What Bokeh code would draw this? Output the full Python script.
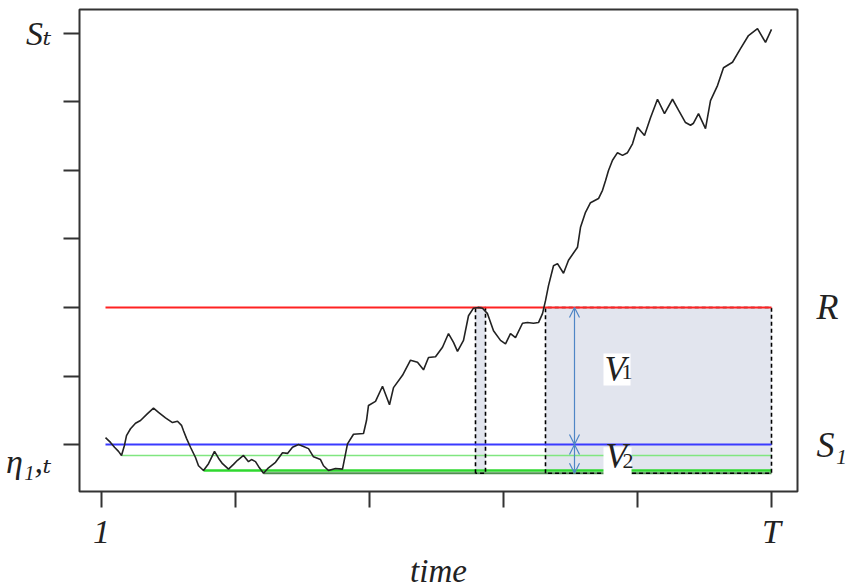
from bokeh.plotting import figure
from bokeh.models import Range1d, FixedTicker, LinearAxis, Arrow, OpenHead
from bokeh.core.properties import value
from bokeh.embed import file_html
from bokeh.resources import INLINE

# ---- data (time in steps, price in tick units) ----
time = [5, 10, 14, 18, 21, 24, 26, 30, 35, 40, 47, 53, 58, 65, 72, 77, 81, 83, 86, 90,
        95, 98, 103, 108, 114, 118, 122, 128, 133, 137, 143, 148, 151, 155, 158, 163, 168, 175, 182, 187,
        192, 198, 203, 208, 213, 220, 223, 228, 235, 242, 247, 253, 263, 266, 268, 275, 282, 289, 293, 302,
        310, 317, 323, 328, 335, 342, 348, 353, 357, 363, 368, 373, 378, 382, 387, 393, 400, 405, 410, 415,
        422, 427, 433, 438, 442, 445, 448, 453, 457, 463, 468, 477, 480, 485, 490, 498, 502, 505, 508, 512,
        517, 522, 527, 532, 537, 544, 550, 557, 564, 572, 578, 585, 590, 593, 598, 605, 610, 617, 623, 632,
        640, 648, 657, 665, 671]
price = [0.10, 0.03, -0.04, -0.10, -0.16, -0.01, 0.13, 0.23, 0.31, 0.35, 0.45, 0.53, 0.47, 0.39, 0.32, 0.34, 0.28, 0.20, 0.09, -0.04,
         -0.19, -0.31, -0.38, -0.28, -0.10, -0.20, -0.28, -0.36, -0.29, -0.23, -0.16, -0.25, -0.22, -0.25, -0.32, -0.42, -0.34, -0.26, -0.12, -0.13,
         -0.04, 0.00, -0.03, -0.06, -0.18, -0.22, -0.31, -0.38, -0.35, -0.36, 0.01, 0.15, 0.16, 0.35, 0.57, 0.63, 0.85, 0.58, 0.83, 1.01,
         1.23, 1.20, 1.09, 1.27, 1.28, 1.42, 1.62, 1.49, 1.36, 1.52, 1.88, 1.99, 2.00, 1.99, 1.91, 1.66, 1.52, 1.47, 1.62, 1.56,
         1.77, 1.78, 1.77, 1.78, 1.91, 2.10, 2.32, 2.61, 2.64, 2.50, 2.69, 2.88, 3.17, 3.39, 3.53, 3.59, 3.71, 3.85, 4.00, 4.15,
         4.26, 4.22, 4.26, 4.39, 4.63, 4.51, 4.77, 5.04, 4.83, 5.04, 4.88, 4.70, 4.66, 4.69, 4.83, 4.61, 5.02, 5.24, 5.50, 5.58,
         5.78, 5.97, 6.07, 5.87, 6.06]

T = 671
x_ticks = [1, 135, 269, 403, 537, 671]
x_tick_labels = {1: "1", 671: "T"}
y_ticks = [0, 1, 2, 3, 4, 5, 6]
y_tick_labels = {6: "Sₜ", -0.25: "η₁,ₜ"}
R = 2.0
S1 = 0.0
right_labels = {2.0: "R", 0.0: "S₁"}
eta_start = [21, 103, 163]          # times of new running minima
eta_level = [-0.16, -0.38, -0.42]   # running-minimum levels
eta_colors = ["#80e680", "#2fd82f", "#4f8f4f"]
eta_widths = [1.5, 2.5, 2.0]
touch_start = [375, 445]            # windows where the path is at/above R
touch_end = [385, 671]
arrow_t = 474

FONT = "'Liberation Serif', 'DejaVu Serif', serif"
TXT = "#222222"

p = figure(frame_width=718, frame_height=482, min_border_left=79, min_border_right=49,
           min_border_top=9, min_border_bottom=96,
           x_range=Range1d(-21, 697), y_range=Range1d(-0.686, 6.35),
           output_backend="svg", toolbar_location=None, tools="")
p.grid.visible = False
p.outline_line_color = "#333333"
p.outline_line_width = 2
p.background_fill_color = "white"
p.border_fill_color = "white"


def style_labels(ax, size="34px", fstyle="italic"):
    ax.major_label_text_font = FONT
    ax.major_label_text_font_style = fstyle
    ax.major_label_text_font_size = size
    ax.major_label_text_color = TXT


# tick axes
xa = p.xaxis[0]
xa.ticker = FixedTicker(ticks=x_ticks)
xa.major_label_overrides = {t: x_tick_labels.get(t, "") for t in x_ticks}
style_labels(xa)
xa.major_label_standoff = 5
xa.axis_label = "time"
xa.axis_label_text_font = FONT
xa.axis_label_text_font_style = "italic"
xa.axis_label_text_font_size = "33px"
xa.axis_label_text_color = TXT
xa.axis_label_standoff = 0

ya = p.yaxis[0]
ya.ticker = FixedTicker(ticks=y_ticks)
ya.major_label_overrides = {t: "" for t in y_ticks}
ya.major_label_standoff = 0

for ax in (xa, ya):
    ax.axis_line_color = None
    ax.major_tick_line_color = "#333333"
    ax.major_tick_line_width = 2
    ax.major_tick_out = 16
    ax.major_tick_in = 0
    ax.minor_tick_line_color = None

# label-only axes (left: S_t and eta; right: R and S_1)
yl = LinearAxis(ticker=FixedTicker(ticks=list(y_tick_labels.keys())),
                major_label_overrides=y_tick_labels, major_label_standoff=12)
yr = LinearAxis(ticker=FixedTicker(ticks=list(right_labels.keys())),
                major_label_overrides=right_labels, major_label_standoff=19)
style_labels(yl)
style_labels(yr, size="36px")
for ax in (yl, yr):
    ax.axis_line_color = None
    ax.major_tick_line_color = None
    ax.major_tick_out = 0
    ax.major_tick_in = 0
    ax.minor_tick_line_color = None
p.add_layout(yl, "left")
p.add_layout(yr, "right")

# shaded windows
eta_min = min(eta_level)
p.quad(left=touch_start, right=touch_end, bottom=[eta_min] * 2, top=[R] * 2,
       fill_color="#e2e5ee", line_color=None)

# running minimum lines
for s, lv, c, w in zip(eta_start, eta_level, eta_colors, eta_widths):
    p.line([s, T], [lv, lv], line_color=c, line_width=w)

# dashed window outlines
for a, b in zip(touch_start, touch_end):
    p.line([a, a, b, b, a], [eta_min, R, R, eta_min, eta_min], line_color="black",
           line_width=1.6, line_dash="4 3")

# S1 and R levels
p.line([time[0], T], [S1, S1], line_color="#3a3aff", line_width=2)
p.line([time[0], T], [R, R], line_color="#ff2222", line_width=1.8)

# price path
p.line(time, price, line_color="#222222", line_width=1.6)

# arrows
for y0, y1 in ((S1, R), (eta_min, S1)):
    p.add_layout(Arrow(x_start=arrow_t, y_start=y0, x_end=arrow_t, y_end=y1,
                       start=OpenHead(size=10, line_color="#4f86c6", line_width=1.2),
                       end=OpenHead(size=10, line_color="#4f86c6", line_width=1.2),
                       line_color="#4f86c6", line_width=1.2))

# white boxes behind V labels
p.quad(left=[503, 503], right=[530, 531], bottom=[0.86, -0.50], top=[1.33, -0.04],
       fill_color="white", line_color=None)

# V labels
p.text(x=[504, 505], y=[1.10, -0.17], text=["V", "V"], text_font=value(FONT),
       text_font_style="italic", text_font_size="35px", text_baseline="alphabetic",
       text_color=TXT)
p.text(x=[521, 522], y=[1.06, -0.24], text=["1", "2"], text_font=value(FONT),
       text_font_size="22px", text_baseline="alphabetic", text_color=TXT)

open("out.html", "w").write(file_html(p, INLINE))
